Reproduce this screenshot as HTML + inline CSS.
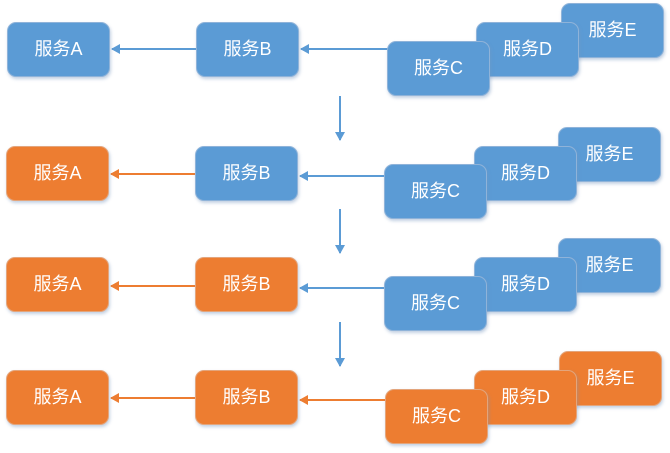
<!DOCTYPE html>
<html><head><meta charset="utf-8"><style>
body{margin:0;width:670px;height:453px;background:#fff;position:relative;overflow:hidden;font-family:"Liberation Sans","Noto Sans CJK SC",sans-serif}
.b{position:absolute;width:103px;height:55px;border-radius:9px;color:#fff;font-size:18px;display:flex;align-items:center;justify-content:center;box-sizing:border-box;padding-bottom:3px;box-shadow:1px 2px 3px rgba(120,150,190,.45)}
.u{background:#5b9bd5;border:1px solid #8fb3d9}
.o{background:#ed7d31;border:1px solid #e3a57c}
svg{position:absolute;left:0;top:0}
</style></head><body>
<svg width="670" height="453">
<defs>
<marker id="mb" markerWidth="10" markerHeight="10" refX="8" refY="5" orient="auto" markerUnits="userSpaceOnUse"><path d="M0,0 L9,5 L0,10 Z" fill="#5b9bd5"/></marker>
<marker id="mo" markerWidth="10" markerHeight="10" refX="8" refY="5" orient="auto" markerUnits="userSpaceOnUse"><path d="M0,0 L9,5 L0,10 Z" fill="#ed7d31"/></marker>
</defs>
<g stroke-width="2" fill="none">
<line x1="196" y1="49" x2="112" y2="49" stroke="#5b9bd5" marker-end="url(#mb)"/>
<line x1="390" y1="49" x2="301" y2="49" stroke="#5b9bd5" marker-end="url(#mb)"/>
<line x1="195" y1="174" x2="111" y2="174" stroke="#ed7d31" marker-end="url(#mo)"/>
<line x1="386" y1="176" x2="300" y2="176" stroke="#5b9bd5" marker-end="url(#mb)"/>
<line x1="195" y1="286" x2="111" y2="286" stroke="#ed7d31" marker-end="url(#mo)"/>
<line x1="386" y1="288" x2="300" y2="288" stroke="#5b9bd5" marker-end="url(#mb)"/>
<line x1="195" y1="398" x2="111" y2="398" stroke="#ed7d31" marker-end="url(#mo)"/>
<line x1="386" y1="400" x2="300" y2="400" stroke="#ed7d31" marker-end="url(#mo)"/>
<line x1="340" y1="96" x2="340" y2="140" stroke="#5b9bd5" marker-end="url(#mb)"/>
<line x1="340" y1="209" x2="340" y2="253" stroke="#5b9bd5" marker-end="url(#mb)"/>
<line x1="340" y1="322" x2="340" y2="366" stroke="#5b9bd5" marker-end="url(#mb)"/>
</g></svg>

<div class="b u" style="left:7px;top:22px">服务A</div>
<div class="b u" style="left:196px;top:22px">服务B</div>
<div class="b u" style="left:561px;top:3px">服务E</div>
<div class="b u" style="left:476px;top:22px">服务D</div>
<div class="b u" style="left:387px;top:41px">服务C</div>

<div class="b o" style="left:6px;top:146px">服务A</div>
<div class="b u" style="left:195px;top:146px">服务B</div>
<div class="b u" style="left:558px;top:127px">服务E</div>
<div class="b u" style="left:474px;top:146px">服务D</div>
<div class="b u" style="left:384px;top:164px">服务C</div>

<div class="b o" style="left:6px;top:257px">服务A</div>
<div class="b o" style="left:195px;top:257px">服务B</div>
<div class="b u" style="left:558px;top:238px">服务E</div>
<div class="b u" style="left:474px;top:257px">服务D</div>
<div class="b u" style="left:384px;top:276px">服务C</div>

<div class="b o" style="left:6px;top:370px">服务A</div>
<div class="b o" style="left:195px;top:370px">服务B</div>
<div class="b o" style="left:559px;top:351px">服务E</div>
<div class="b o" style="left:474px;top:370px">服务D</div>
<div class="b o" style="left:385px;top:389px">服务C</div>
</body></html>
